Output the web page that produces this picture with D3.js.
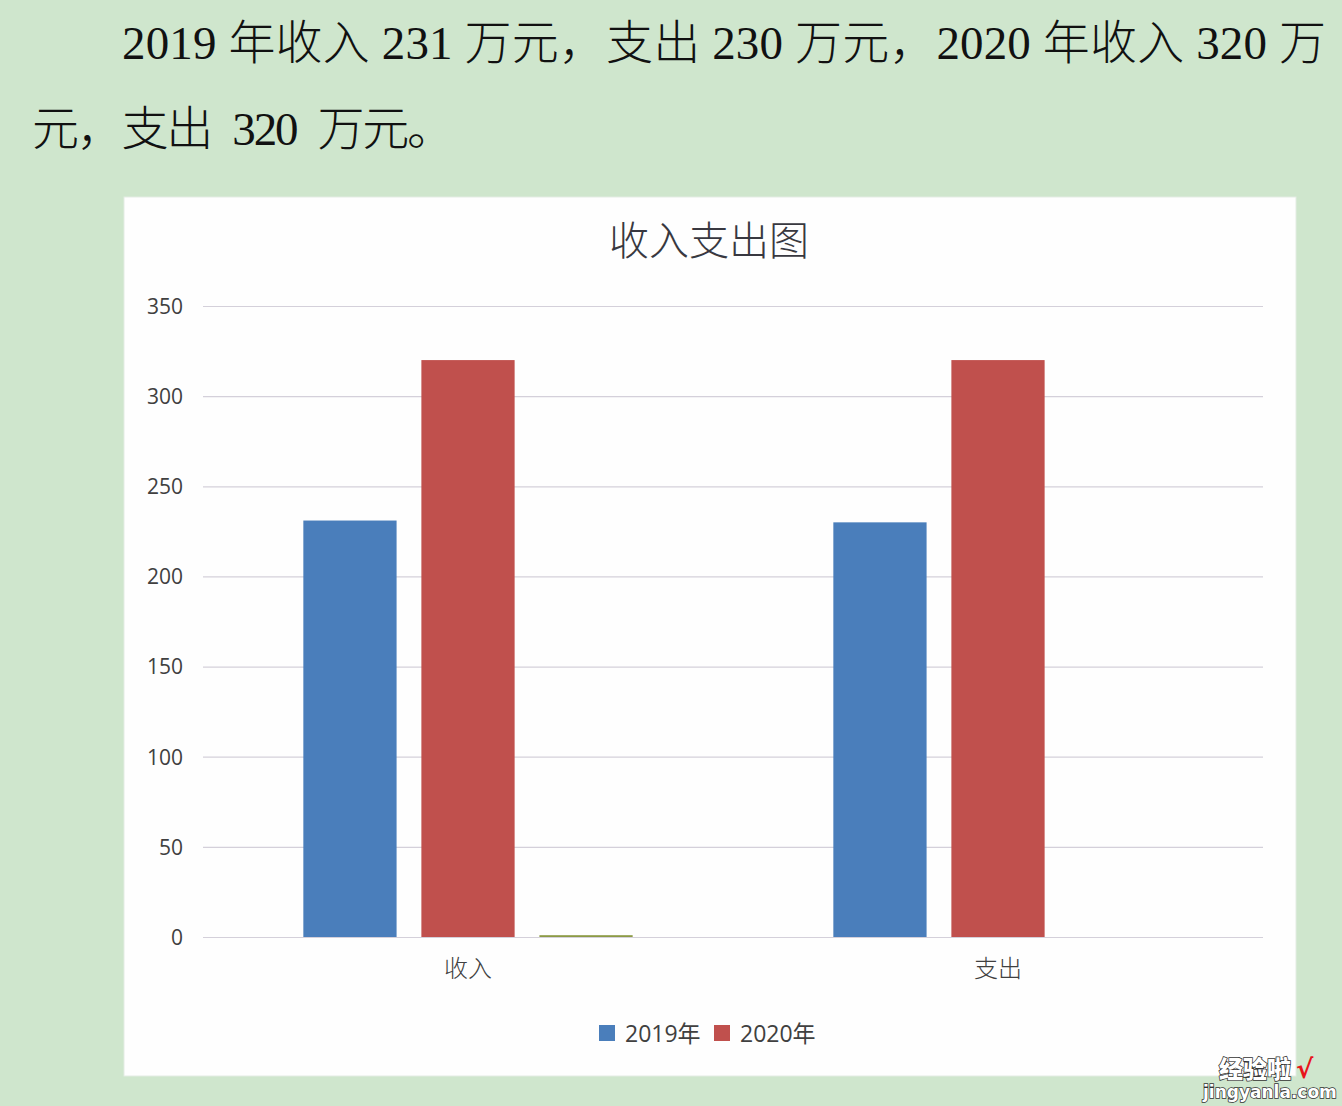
<!DOCTYPE html>
<html>
<head>
<meta charset="utf-8">
<script src="https://cdn.jsdelivr.net/npm/d3@7/dist/d3.min.js"></script>
<style>
html,body{margin:0;padding:0;background:#cfe6cd;}
svg{display:block;}
</style>
</head>
<body>
<svg id="c" width="1342" height="1106"></svg>
<script>
// ---- data ----
const categories = ["收入", "支出"];
const seriesNames = ["2019年", "2020年", ""];
const values2019 = [231, 230];
const values2020 = [320, 320];
const valuesExtra = [1, 0];
const yTicks = [0, 50, 100, 150, 200, 250, 300, 350];
const seriesColors = ["#4a7ebb", "#c0504d", "#8c9a45"];
const legendNames = ["2019年", "2020年"];
const chartTitle = "收入支出图";
const paragraphLines = [
  "2019 年收入 231 万元，支出 230 万元，2020 年收入 320 万",
  "元，支出\u2002320\u2002万元。"
];

const svg = d3.select("#c");

// page background
svg.append("rect").attr("width",1342).attr("height",1106).attr("fill","#cfe6cd");

// paragraph text
const para = [
  {t: paragraphLines[0], x: 122, y: 59, w: 1204},
  {t: paragraphLines[1], x: 32, y: 145, w: 422}
];
para.forEach(p => {
  svg.append("text")
    .attr("x", p.x).attr("y", p.y)
    .attr("textLength", p.w).attr("lengthAdjust", "spacing")
    .attr("font-family", "'Liberation Serif','Noto Sans CJK SC',serif")
    .attr("font-size", 47).attr("font-weight", 300)
    .attr("fill", "#111")
    .text(p.t);
});

// chart panel
svg.append("rect").attr("x",124).attr("y",197).attr("width",1172).attr("height",879)
  .attr("fill","#fefefe").attr("stroke","#e4ece4").attr("stroke-width",1);

// title
svg.append("text").attr("x",709).attr("y",255).attr("text-anchor","middle")
  .attr("font-family","'Noto Sans CJK SC',sans-serif").attr("font-size",40).attr("font-weight",300)
  .attr("fill","#383840").text(chartTitle);

// scales
const plot = {left:203, right:1263, top:306, bottom:937};
const y = d3.scaleLinear().domain([0,350]).range([plot.bottom, plot.top]);
const x0 = d3.scaleBand().domain(categories).range([plot.left, plot.right]).padding(0);
const x1 = d3.scaleBand().domain([0,1,2]).range([0, x0.bandwidth()]).paddingInner(0.21).paddingOuter(0.85);

// gridlines
const yAxis = d3.axisLeft(y).tickValues(yTicks).tickSize(-(plot.right-plot.left)).tickPadding(20);
const gy = svg.append("g").attr("transform",`translate(${plot.left},0)`).call(yAxis);
gy.select(".domain").remove();
gy.selectAll(".tick line").attr("stroke","#d4d0da").attr("stroke-width",1.2);
gy.selectAll(".tick text").attr("font-family","'Open Sans','Noto Sans',sans-serif")
  .attr("font-size",21).attr("fill","#404040").attr("dy","0.35em");

// bars
const allSeries = [values2019, values2020, valuesExtra];
const g = svg.append("g");
categories.forEach((c, ci) => {
  allSeries.forEach((vals, si) => {
    const v = vals[ci];
    if (v <= 0) return;
    const top = y(v);
    g.append("rect")
      .attr("x", x0(c) + x1(si))
      .attr("y", top)
      .attr("width", x1.bandwidth())
      .attr("height", Math.max(y(0) - top, 1.5))
      .attr("fill", seriesColors[si]);
  });
});

// x axis labels
const xAxis = d3.axisBottom(x0).tickSize(0).tickPadding(23);
const gx = svg.append("g").attr("transform",`translate(0,${plot.bottom})`).call(xAxis);
gx.select(".domain").remove();
gx.selectAll(".tick text").attr("font-family","'Noto Sans CJK SC',sans-serif")
  .attr("font-size",24).attr("font-weight",300).attr("fill","#404040");

// legend
const legendItems = [{n: legendNames[0], c: seriesColors[0], x: 599}, {n: legendNames[1], c: seriesColors[1], x: 714}];
legendItems.forEach(it => {
  svg.append("rect").attr("x", it.x).attr("y", 1025).attr("width", 16).attr("height", 16).attr("fill", it.c);
  svg.append("text").attr("x", it.x + 26).attr("y", 1042)
    .attr("font-family","'Open Sans','Noto Sans CJK SC',sans-serif").attr("font-size",23)
    .attr("fill","#404040").text(it.n);
});

// watermark
svg.append("text").attr("x",1219).attr("y",1078)
  .attr("font-family","'Noto Sans CJK SC',sans-serif").attr("font-size",24).attr("font-weight",900)
  .attr("fill","#fff").attr("stroke","#333").attr("stroke-width",1.5).attr("paint-order","stroke")
  .text("经验啦");
svg.append("text").attr("x",1296).attr("y",1078)
  .attr("font-family","'DejaVu Sans',sans-serif").attr("font-size",26).attr("font-weight",700)
  .attr("fill","#e8141b").text("√");
svg.append("text").attr("x",1203).attr("y",1098)
  .attr("font-family","'DejaVu Sans',sans-serif").attr("font-size",17).attr("font-weight",700)
  .attr("fill","#fff").attr("stroke","#333").attr("stroke-width",1.5).attr("paint-order","stroke")
  .text("jingyanla.com");
</script>
</body>
</html>
